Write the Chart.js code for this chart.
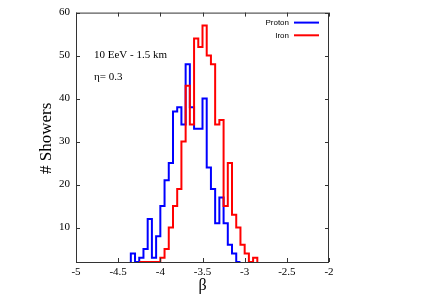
<!DOCTYPE html>
<html>
<head>
<meta charset="utf-8">
<script src="https://cdn.jsdelivr.net/npm/chart.js@4"></script>
<style>
  html, body { margin: 0; padding: 0; background: #fff; }
  canvas { display: block; }
</style>
</head>
<body>
<canvas id="chart" width="436" height="305"></canvas>
<script>
/* ============================================================
   β distribution — proton vs iron showers (10 EeV, 1.5 km, η = 0.3).
   Two step histograms, bin width 0.05.
   ============================================================ */

const BIN_WIDTH = 0.05;
const Y_MIN = 2;

// lower edge of each bin and the count in it
const protonBins = [-4.35, -4.3, -4.25, -4.2, -4.15, -4.1, -4.05, -4.0, -3.95, -3.9,
  -3.85, -3.8, -3.75, -3.7, -3.65, -3.6, -3.55, -3.5, -3.45, -3.4,
  -3.35, -3.3, -3.25, -3.2, -3.15, -3.1];
const protonCounts = [4, 2, 3, 5, 12, 3, 8, 15, 21, 25,
  37, 38, 34, 48, 38, 33, 33, 40, 24, 19,
  11, 17, 11, 6, 4, 2];

const ironBins = [-4.25, -4.2, -4.15, -4.1, -4.05, -4.0, -3.95, -3.9, -3.85, -3.8,
  -3.75, -3.7, -3.65, -3.6, -3.55, -3.5, -3.45, -3.4, -3.35, -3.3,
  -3.25, -3.2, -3.15, -3.1, -3.05, -3.0, -2.95, -2.9];
const ironCounts = [2, 2, 2, 2, 2, 3, 5, 10, 15, 19,
  30, 43, 34, 54, 52, 57, 50, 48, 34, 35,
  15, 25, 13, 10, 6, 4, 2, 3];

const xTicks = [-5, -4.5, -4, -3.5, -3, -2.5, -2];
const yTicks = [10, 20, 30, 40, 50, 60];

const xLabel = 'β';
const yLabel = '# Showers';
const notes = ['10 EeV - 1.5 km', 'η= 0.3'];

/** Bins + counts -> outline of a step histogram. */
function steps(bins, counts) {
  const pts = [{ x: bins[0], y: Y_MIN }];
  bins.forEach((b, i) => {
    pts.push({ x: b, y: counts[i] });
    pts.push({ x: b + BIN_WIDTH, y: counts[i] });
  });
  pts.push({ x: bins[bins.length - 1] + BIN_WIDTH, y: Y_MIN });
  return pts;
}

const SERIF = '"Liberation Serif", "Times New Roman", serif';
const SANS = '"Liberation Sans", Arial, sans-serif';

/** Frame with inward ticks, axis titles, notes and legend. */
const decorations = {
  id: 'decorations',
  afterDraw(chart) {
    const { ctx, chartArea: a, scales: { x, y } } = chart;
    const line = (x1, y1, x2, y2) => {
      ctx.beginPath(); ctx.moveTo(x1, y1); ctx.lineTo(x2, y2); ctx.stroke();
    };
    ctx.save();

    ctx.strokeStyle = '#333';
    ctx.lineWidth = 1;
    ctx.strokeRect(a.left + 0.5, a.top + 0.5, a.right - a.left - 1, a.bottom - a.top);
    xTicks.forEach(v => {
      const px = Math.round(x.getPixelForValue(v)) + 0.5;
      line(px, a.bottom, px, a.bottom - 4);
      line(px, a.top, px, a.top + 4);
    });
    yTicks.forEach(v => {
      const py = Math.round(y.getPixelForValue(v)) + 0.5;
      line(a.left, py, a.left + 4, py);
      line(a.right, py, a.right - 4, py);
    });

    ctx.fillStyle = '#000';
    ctx.textBaseline = 'middle';

    ctx.font = '16px ' + SERIF;
    ctx.textAlign = 'center';
    ctx.fillText(xLabel, (a.left + a.right) / 2, a.bottom + 24);

    ctx.save();
    ctx.font = '17px ' + SERIF;
    ctx.translate(a.left - 29, (a.top + a.bottom) / 2 + 1);
    ctx.rotate(-Math.PI / 2);
    ctx.fillText(yLabel, 0, 0);
    ctx.restore();

    ctx.font = '11px ' + SERIF;
    ctx.textAlign = 'left';
    notes.forEach((t, i) => ctx.fillText(t, a.left + 18, a.top + 43 + i * 22));

    ctx.font = '8px ' + SANS;
    ctx.textAlign = 'right';
    ctx.lineWidth = 2;
    chart.data.datasets.forEach((ds, i) => {
      const ly = a.top + 10 + i * 12.7;
      ctx.fillText(ds.label, a.right - 40, ly);
      ctx.strokeStyle = ds.borderColor;
      line(a.right - 35, ly, a.right - 10, ly);
    });

    ctx.restore();
  },
};

new Chart(document.getElementById('chart'), {
  type: 'line',
  data: {
    datasets: [
      { label: 'Proton', data: steps(protonBins, protonCounts), borderColor: '#0000ff', order: 1 },
      { label: 'Iron', data: steps(ironBins, ironCounts), borderColor: '#ff0000', order: 0 },
    ],
  },
  options: {
    responsive: false,
    animation: false,
    events: [],
    layout: { padding: { left: 0, right: 107, top: 10, bottom: 0 } },
    elements: {
      line: { borderWidth: 2, tension: 0 },
      point: { radius: 0 },
    },
    plugins: {
      legend: { display: false },
      tooltip: { enabled: false },
    },
    scales: {
      x: {
        type: 'linear',
        min: -5,
        max: -2,
        afterBuildTicks: s => { s.ticks = xTicks.map(v => ({ value: v })); },
        afterFit: s => { s.height = 43; },
        grid: { display: false, drawTicks: false },
        border: { display: false },
        ticks: {
          color: '#000', padding: 4, maxRotation: 0,
          font: { family: SERIF, size: 11 },
          callback: v => String(v),
        },
      },
      y: {
        type: 'linear',
        min: Y_MIN,
        max: 60,
        afterBuildTicks: s => { s.ticks = yTicks.map(v => ({ value: v })); },
        afterFit: s => { s.width = 76; },
        grid: { display: false, drawTicks: false },
        border: { display: false },
        ticks: {
          color: '#000', padding: 6,
          font: { family: SERIF, size: 11 },
          callback: v => String(v),
        },
      },
    },
  },
  plugins: [decorations],
});
</script>
</body>
</html>
